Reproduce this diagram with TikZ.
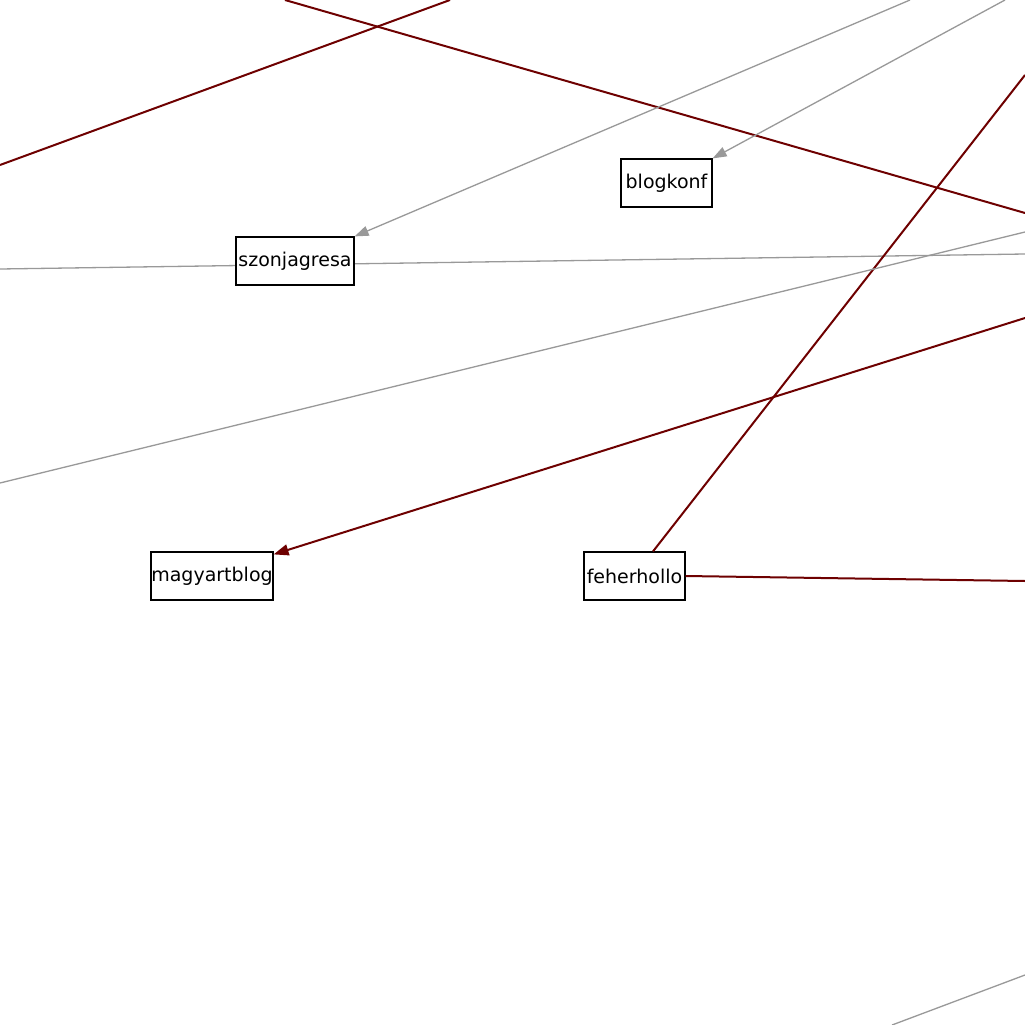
\documentclass[tikz,border=0pt]{standalone}
\usepackage{fontspec}
\setmainfont{DejaVu Sans}
\usetikzlibrary{arrows.meta}
\definecolor{edgered}{HTML}{6E0000}
\definecolor{edgegray}{HTML}{999999}
\begin{document}
\begin{tikzpicture}[x=1pt,y=-1pt,
  box/.style={draw=black,fill=white,line width=1.2pt,inner sep=0pt,font=\fontsize{19}{22}\selectfont},
  redline/.style={draw=edgered,line width=2pt},
  grayline/.style={draw=edgegray,line width=1.3pt},
  redarrow/.style={redline,-{Triangle[length=15pt,width=11pt]}},
  grayarrow/.style={grayline,-{Triangle[length=14pt,width=10pt]}}]
\useasboundingbox (0,0) rectangle (1025,1025);
\fill[white] (0,0) rectangle (1025,1025);
% free coordinates
\coordinate (a1) at (0,165);
\coordinate (a2) at (450,0);
\coordinate (b1) at (285,0);
\coordinate (b2) at (1025,213);
\coordinate (c1) at (910,0);
\coordinate (d1) at (1005,0);
\coordinate (e1) at (1025,75);
\coordinate (f1) at (0,269);
\coordinate (f2) at (1025,254);
\coordinate (g1) at (0,483);
\coordinate (g2) at (1025,232);
\coordinate (h1) at (1025,318);
\coordinate (i1) at (1025,581);
\coordinate (j1) at (892,1025);
\coordinate (j2) at (1025,975);
% lines under nodes
\draw[grayline] (f1) -- (f2);
% nodes
\node[box,minimum width=91pt,minimum height=48pt] (blogkonf) at (666.5,183) {blogkonf};
\node[box,minimum width=118pt,minimum height=48pt] (szonjagresa) at (295,261) {szonjagresa};
\node[box,minimum width=122pt,minimum height=48pt] (magyartblog) at (212,576) {magyartblog};
\node[box,minimum width=101pt,minimum height=48pt] (feherhollo) at (634.5,576) {feherhollo};
% connectors
\draw[redline] (a1) -- (a2);
\draw[redline] (b1) -- (b2);
\draw[grayarrow] (c1) -- (szonjagresa.north east);
\draw[grayarrow] (d1) -- (blogkonf.north east);
\draw[redline] (e1) -- (feherhollo.north -| 653,0);
\draw[grayline] (g1) -- (g2);
\draw[redarrow] (h1) -- ([yshift=-3pt]magyartblog.north east);
\draw[redline] (feherhollo.east) -- (i1);
\draw[grayline] (j1) -- (j2);
\end{tikzpicture}
\end{document}
